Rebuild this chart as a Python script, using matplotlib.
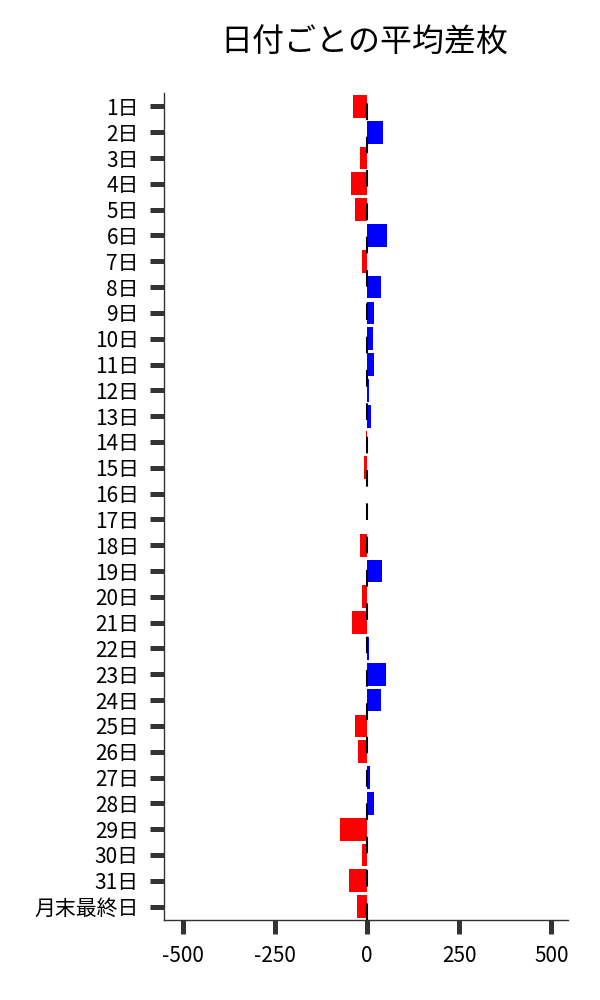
import matplotlib
matplotlib.use("Agg")
import matplotlib.pyplot as plt

plt.rcParams['font.family'] = ['Noto Sans CJK JP', 'DejaVu Sans']

days = [str(i) + "日" for i in range(1, 32)] + ["月末最終日"]
diff = [-38, 43, -19, -43, -33, 54, -14, 38, 18, 15,
        18, 6, 11, -2, -8, 0, -1.5, -19, 40, -14,
        -41, 4, 51, 38, -33, -24, 8, 18, -73, -14,
        -49, -27]
colors = ["blue" if v > 0 else "red" for v in diff]

fig = plt.figure(figsize=(6, 10), dpi=100)
ax = fig.add_axes([0.273, 0.08, 0.674, 0.827])

pos = list(range(len(days)))
ax.barh(pos, diff, height=0.88, color=colors)
ax.axvline(0, color="black", lw=1.5, linestyle=(0, (8, 8)), zorder=3)

ax.set_yticks(pos)
ax.set_yticklabels(days, fontsize=15)
ax.set_ylim(31.52, -0.52)
ax.set_xlim(-552, 546)
ax.set_xticks([-500, -250, 0, 250, 500])
ax.set_xticklabels(["-500", "-250", "0", "250", "500"], fontsize=15)

ax.tick_params(axis="both", length=10, width=3.6, color="#333333", pad=8)
for s in ["top", "right"]:
    ax.spines[s].set_visible(False)
for s in ["left", "bottom"]:
    ax.spines[s].set_color("#333333")
    ax.spines[s].set_linewidth(1)

fig.text(0.608, 0.957, "日付ごとの平均差枚", fontsize=23, ha="center", va="center")

fig.savefig("out.png", dpi=100)
